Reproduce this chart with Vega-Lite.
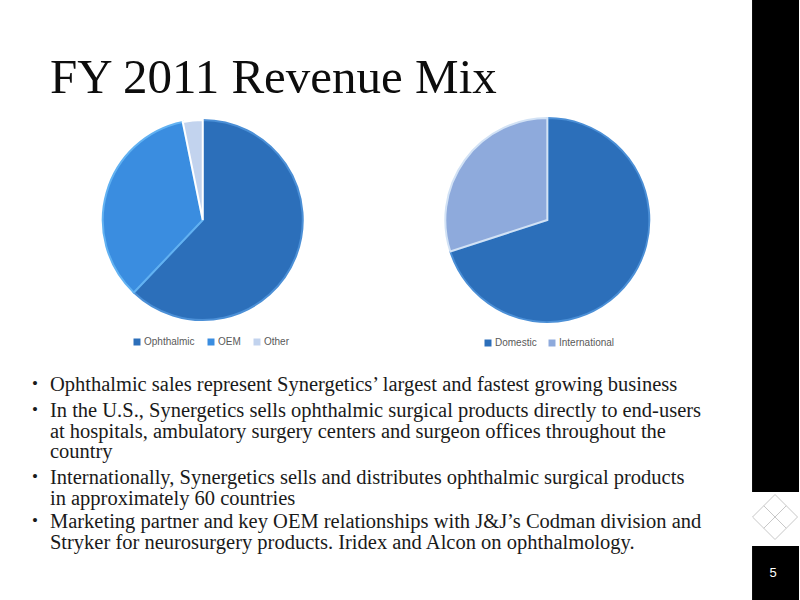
{
  "$schema": "https://vega.github.io/schema/vega-lite/v6.json",
  "width": 800,
  "height": 600,
  "autosize": {"type": "fit", "contains": "padding"},
  "padding": 0,
  "background": "white",
  "config": {"view": {"stroke": null}},
  "encoding": {
    "x": {"type": "quantitative", "scale": {"domain": [0, 800], "nice": false, "zero": false}, "axis": null},
    "y": {"type": "quantitative", "scale": {"domain": [0, 600], "nice": false, "zero": false, "reverse": true}, "axis": null}
  },
  "layer": [
    {
      "data": {"values": [{"title": "FY 2011 Revenue Mix"}]},
      "mark": {"type": "text", "font": "Liberation Serif", "fontSize": 49, "align": "left", "baseline": "alphabetic", "color": "#0d0d0d"},
      "encoding": {"x": {"datum": 50, "type": "quantitative"}, "y": {"datum": 93, "type": "quantitative"}, "text": {"field": "title"}}
    },
    {
      "data": {"values": [
        {"segment": "Ophthalmic", "share": 62.1},
        {"segment": "OEM", "share": 34.7},
        {"segment": "Other", "share": 3.2}
      ]},
      "mark": {"type": "arc", "outerRadius": 100, "strokeWidth": 2},
      "encoding": {
        "x": {"datum": 203, "type": "quantitative"},
        "y": {"datum": 220, "type": "quantitative"},
        "theta": {"field": "share", "type": "quantitative", "stack": true},
        "order": {"field": "share", "sort": "descending"},
        "color": {
          "field": "segment", "type": "nominal",
          "scale": {"domain": ["Ophthalmic", "OEM", "Other"], "range": ["#2c6fba", "#3a8de0", "#c2d3ee"]},
          "legend": {"orient": "none", "legendX": 132, "legendY": 337, "direction": "horizontal", "title": null, "symbolType": "square", "symbolSize": 49, "symbolStrokeWidth": 0, "labelFont": "Liberation Sans", "labelFontSize": 10, "labelColor": "#595959", "columnPadding": 11, "labelOffset": 2, "padding": 0}
        },
        "stroke": {
          "field": "segment", "type": "nominal",
          "scale": {"domain": ["Ophthalmic", "OEM", "Other"], "range": ["#4b8fd6", "#62b2f2", "#ffffff"]},
          "legend": null
        }
      }
    },
    {
      "data": {"values": [
        {"region": "Domestic", "share": 70},
        {"region": "International", "share": 30}
      ]},
      "mark": {"type": "arc", "outerRadius": 102, "strokeWidth": 2},
      "encoding": {
        "x": {"datum": 548, "type": "quantitative"},
        "y": {"datum": 220, "type": "quantitative"},
        "theta": {"field": "share", "type": "quantitative", "stack": true},
        "order": {"field": "share", "sort": "descending"},
        "color": {
          "field": "region", "type": "nominal",
          "scale": {"domain": ["Domestic", "International"], "range": ["#2c6fba", "#8eaadc"]},
          "legend": {"orient": "none", "legendX": 483, "legendY": 338, "direction": "horizontal", "title": null, "symbolType": "square", "symbolSize": 49, "symbolStrokeWidth": 0, "labelFont": "Liberation Sans", "labelFontSize": 10, "labelColor": "#595959", "columnPadding": 10, "labelOffset": 2, "padding": 0}
        },
        "stroke": {
          "field": "region", "type": "nominal",
          "scale": {"domain": ["Domestic", "International"], "range": ["#4b8fd6", "#d2e2f5"]},
          "legend": null
        }
      }
    },
    {
      "data": {"values": [{"text": "Ophthalmic sales represent Synergetics’ largest and fastest growing  business"}]},
      "layer": [
        {"mark": {"type": "text", "font": "Liberation Serif", "fontSize": 20.5, "align": "left", "baseline": "alphabetic", "color": "#1a1a1a", "lineBreak": "\n", "lineHeight": 20.5},
         "encoding": {"x": {"datum": 50, "type": "quantitative"}, "y": {"datum": 391, "type": "quantitative"}, "text": {"field": "text"}}},
        {"mark": {"type": "text", "text": "•", "font": "Liberation Serif", "fontSize": 17, "align": "left", "baseline": "alphabetic", "color": "#1a1a1a"},
         "encoding": {"x": {"datum": 32, "type": "quantitative"}, "y": {"datum": 389, "type": "quantitative"}}}
      ]
    },
    {
      "data": {"values": [{"text": "In the U.S., Synergetics sells ophthalmic surgical products directly to end-users\nat hospitals, ambulatory surgery centers and surgeon offices throughout the\ncountry"}]},
      "layer": [
        {"mark": {"type": "text", "font": "Liberation Serif", "fontSize": 20.5, "align": "left", "baseline": "alphabetic", "color": "#1a1a1a", "lineBreak": "\n", "lineHeight": 20.5},
         "encoding": {"x": {"datum": 50, "type": "quantitative"}, "y": {"datum": 417, "type": "quantitative"}, "text": {"field": "text"}}},
        {"mark": {"type": "text", "text": "•", "font": "Liberation Serif", "fontSize": 17, "align": "left", "baseline": "alphabetic", "color": "#1a1a1a"},
         "encoding": {"x": {"datum": 32, "type": "quantitative"}, "y": {"datum": 415, "type": "quantitative"}}}
      ]
    },
    {
      "data": {"values": [{"text": "Internationally, Synergetics sells and distributes ophthalmic surgical products\nin approximately 60 countries"}]},
      "layer": [
        {"mark": {"type": "text", "font": "Liberation Serif", "fontSize": 20.5, "align": "left", "baseline": "alphabetic", "color": "#1a1a1a", "lineBreak": "\n", "lineHeight": 20.5},
         "encoding": {"x": {"datum": 50, "type": "quantitative"}, "y": {"datum": 484, "type": "quantitative"}, "text": {"field": "text"}}},
        {"mark": {"type": "text", "text": "•", "font": "Liberation Serif", "fontSize": 17, "align": "left", "baseline": "alphabetic", "color": "#1a1a1a"},
         "encoding": {"x": {"datum": 32, "type": "quantitative"}, "y": {"datum": 482, "type": "quantitative"}}}
      ]
    },
    {
      "data": {"values": [{"text": "Marketing partner and key OEM relationships with J&J’s Codman division and\nStryker for neurosurgery products. Iridex and Alcon on ophthalmology."}]},
      "layer": [
        {"mark": {"type": "text", "font": "Liberation Serif", "fontSize": 20.5, "align": "left", "baseline": "alphabetic", "color": "#1a1a1a", "lineBreak": "\n", "lineHeight": 20.5},
         "encoding": {"x": {"datum": 50, "type": "quantitative"}, "y": {"datum": 528, "type": "quantitative"}, "text": {"field": "text"}}},
        {"mark": {"type": "text", "text": "•", "font": "Liberation Serif", "fontSize": 17, "align": "left", "baseline": "alphabetic", "color": "#1a1a1a"},
         "encoding": {"x": {"datum": 32, "type": "quantitative"}, "y": {"datum": 526, "type": "quantitative"}}}
      ]
    },
    {
      "data": {"values": [{"page": "5"}]},
      "layer": [
        {"mark": {"type": "rect", "color": "#000000"},
         "encoding": {"x": {"datum": 753, "type": "quantitative"}, "x2": {"datum": 800}, "y": {"datum": 0, "type": "quantitative"}, "y2": {"datum": 492}}},
        {"mark": {"type": "rect", "color": "#000000"},
         "encoding": {"x": {"datum": 753, "type": "quantitative"}, "x2": {"datum": 800}, "y": {"datum": 546, "type": "quantitative"}, "y2": {"datum": 600}}},
        {"mark": {"type": "point", "shape": "M0,-1L1,0L0,1L-1,0Z M-0.5,-0.5L0.5,0.5 M0.5,-0.5L-0.5,0.5", "size": 2025, "filled": false, "stroke": "#c8c8c8", "strokeWidth": 1, "opacity": 1},
         "encoding": {"x": {"datum": 776, "type": "quantitative"}, "y": {"datum": 517, "type": "quantitative"}}},
        {"mark": {"type": "text", "font": "Liberation Sans", "fontSize": 13, "color": "#ffffff", "align": "center", "baseline": "middle"},
         "encoding": {"x": {"datum": 774, "type": "quantitative"}, "y": {"datum": 573, "type": "quantitative"}, "text": {"field": "page"}}}
      ]
    }
  ],
  "resolve": {"scale": {"color": "independent", "stroke": "independent"}}
}
